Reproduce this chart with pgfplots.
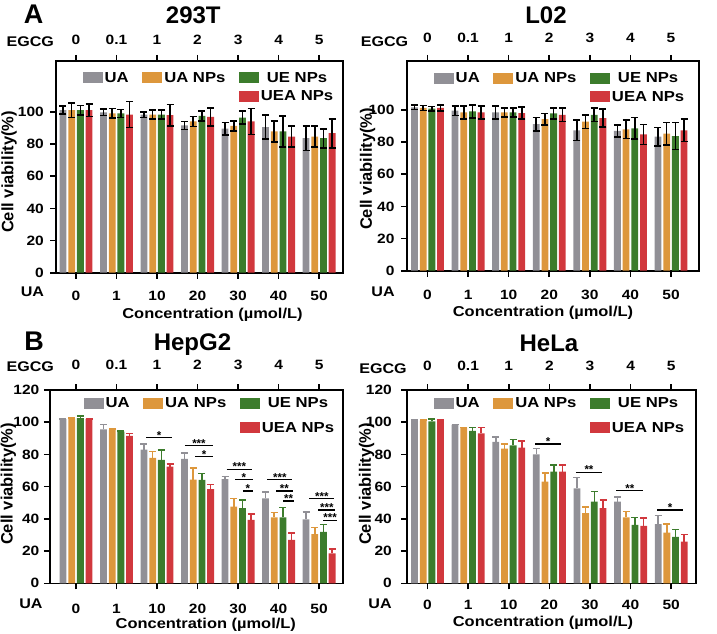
\documentclass[border=0pt]{standalone}
\usepackage{fontspec}
\setmainfont{Liberation Sans}
\newfontfamily\sfx{Liberation Sans}[FakeStretch=1.15]
\usepackage{pgfplots}
\pgfplotsset{compat=1.18}
\definecolor{cUA}{RGB}{145,144,150}
\definecolor{cUAN}{RGB}{221,151,60}
\definecolor{cUEN}{RGB}{60,124,44}
\definecolor{cUEAN}{RGB}{209,56,61}
\newcommand{\tickf}{\sfx\bfseries\fontsize{13.5}{13.5}\selectfont}
\newcommand{\lblf}{\sfx\bfseries\fontsize{14}{14}\selectfont}
\newcommand{\xlf}{\sfx\bfseries\fontsize{14.3}{14.3}\selectfont}
\newcommand{\ylf}{\bfseries\fontsize{16.5}{16.5}\selectfont}
\newcommand{\legf}{\sfx\bfseries\fontsize{14.5}{14.5}\selectfont}
\newcommand{\titf}{\bfseries\fontsize{24}{24}\selectfont}
\newcommand{\letf}{\bfseries\fontsize{27}{27}\selectfont}
\newcommand{\starf}{\bfseries\fontsize{11.5}{11.5}\selectfont}
\pgfplotsset{
  panel/.style={scale only axis, clip=false, ymin=0, xtick={0,...,6},
    axis line style={line width=1.6pt}, tick style={line width=1.6pt, black},
    major tick length=6pt, tick align=outside, minor tick num=0,
    tick label style={font=\tickf}, /pgf/number format/assume math mode=true},
  mainax/.style={panel, ybar, bar width=6.8pt, xtick pos=lower, ytick pos=left,
    xticklabels={0,1,10,20,30,40,50},
    xticklabel style={anchor=base},
    yticklabel style={anchor=east, inner sep=0pt},
    legend columns=3,
    legend image code/.code={\fill[##1] (0pt,-5.5pt) rectangle (20pt,5.5pt);},
    legend style={draw=none, fill=none, anchor=north west, inner sep=0pt, font=\legf,
      nodes={inner sep=1.5pt},
      /tikz/every odd column/.append style={column sep=0.5pt},
      /tikz/every even column/.append style={column sep=12pt}}},
  topax/.style={panel, axis x line*=top, axis y line=none,
    xticklabels={0,0.1,1,2,3,4,5}, xticklabel style={anchor=base}},
  ebA/.style={error bars/y dir=both, error bars/y explicit,
    error bars/error bar style={draw=black, line width=1.6pt},
    error bars/error mark options={rotate=90, draw=black, mark size=3.5pt, line width=1.6pt}},
  ebB/.style={error bars/y dir=plus, error bars/y explicit,
    error bars/error bar style={draw=#1, line width=1.6pt},
    error bars/error mark options={rotate=90, draw=#1, mark size=3.5pt, line width=1.6pt}},
  s1/.style={bar shift=-13.05pt}, s2/.style={bar shift=-4.35pt},
  s3/.style={bar shift=4.35pt}, s4/.style={bar shift=13.05pt},
}
\newcommand{\sig}[4]{\draw[line width=1.2pt] (axis cs:#1,#3) -- (axis cs:#2,#3) node[midway, anchor=base, yshift=-1.5pt, inner sep=0pt, font=\starf]{#4};}
\newcommand{\emptyentries}{\addlegendimage{empty legend}\addlegendentry{}\addlegendimage{empty legend}\addlegendentry{}}
\begin{document}
\begin{tikzpicture}
\useasboundingbox (0,0) rectangle (717pt,633pt);
% ---------------- 293T ----------------
\begin{axis}[mainax, at={(56pt,360.3pt)}, anchor=south west, width=287pt, height=211.7pt,
  xmin=-0.494, xmax=6.59, ymax=131.6, ytick={0,20,...,100},
  xticklabel style={yshift=-22pt}, yticklabel style={xshift=-6pt},
  legend style={at={(0.0923,0.955)}, row sep=4pt}]
\addplot[fill=cUA, draw=none, s1, ebA] coordinates {(0,101) +- (0,2.5) (1,99.6) +- (0,2) (2,98.3) +- (0,1.7) (3,91.6) +- (0,2.5) (4,89.5) +- (0,3.8) (5,90.5) +- (0,7.4) (6,83.6) +- (0,7.6)};
\addlegendentry{UA}
\addplot[fill=cUAN, draw=none, s2, ebA] coordinates {(0,101) +- (0,4.5) (1,99) +- (0,3) (2,98.3) +- (0,2.7) (3,94) +- (0,3.2) (4,91.2) +- (0,3) (5,87.8) +- (0,6.5) (6,84.6) +- (0,6.5)};
\addlegendentry{UA NPs}
\addplot[fill=cUEN, draw=none, s3, ebA] coordinates {(0,101) +- (0,3) (1,99) +- (0,2.5) (2,98.3) +- (0,2.7) (3,97.5) +- (0,3.2) (4,96.4) +- (0,4) (5,87.8) +- (0,9.7) (6,83.6) +- (0,5.9)};
\addlegendentry{UE NPs}
\emptyentries
\addplot[fill=cUEAN, draw=none, s4, ebA] coordinates {(0,101) +- (0,4) (1,98.3) +- (0,8) (2,97.9) +- (0,6.7) (3,96.8) +- (0,5.7) (4,94) +- (0,8) (5,84.6) +- (0,6.5) (6,86.7) +- (0,9)};
\addlegendentry{UEA NPs}
\end{axis}
\begin{axis}[topax, at={(56pt,360.3pt)}, anchor=south west, width=287pt, height=211.7pt,
  xmin=-0.494, xmax=6.59, ymax=131.6, xticklabel style={yshift=10.3pt}]
\end{axis}
% ---------------- L02 ----------------
\begin{axis}[mainax, at={(407pt,362.3pt)}, anchor=south west, width=292pt, height=209.7pt,
  xmin=-0.505, xmax=6.69, ymax=130.5, ytick={0,20,...,100},
  xticklabel style={yshift=-22.6pt}, yticklabel style={xshift=-6.3pt},
  legend style={at={(0.0908,0.953)}, row sep=4pt}]
\addplot[fill=cUA, draw=none, s1, ebA] coordinates {(0,101.7) +- (0,1.5) (1,99.6) +- (0,3) (2,98.5) +- (0,4) (3,91.2) +- (0,4.2) (4,87.4) +- (0,6.3) (5,87) +- (0,3.8) (6,83.4) +- (0,5.7)};
\addlegendentry{UA}
\addplot[fill=cUAN, draw=none, s2, ebA] coordinates {(0,101.3) +- (0,1.5) (1,98.5) +- (0,4) (2,98.5) +- (0,2.7) (3,94.3) +- (0,3.6) (4,92.8) +- (0,4.2) (5,88) +- (0,5.7) (6,85.3) +- (0,7)};
\addlegendentry{UA NPs}
\addplot[fill=cUEN, draw=none, s3, ebA] coordinates {(0,100.8) +- (0,1.3) (1,99.2) +- (0,4) (2,98.5) +- (0,2.7) (3,97.9) +- (0,3.4) (4,97) +- (0,4.2) (5,88.6) +- (0,6.7) (6,83.8) +- (0,8.4)};
\addlegendentry{UE NPs}
\emptyentries
\addplot[fill=cUEAN, draw=none, s4, ebA] coordinates {(0,101.3) +- (0,2) (1,98.5) +- (0,4) (2,98.1) +- (0,3.6) (3,97) +- (0,4.2) (4,95) +- (0,5.7) (5,84.8) +- (0,6.3) (6,87.4) +- (0,7)};
\addlegendentry{UEA NPs}
\end{axis}
\begin{axis}[topax, at={(407pt,362.3pt)}, anchor=south west, width=292pt, height=209.7pt,
  xmin=-0.505, xmax=6.69, ymax=130.5, xticklabel style={yshift=12.7pt}]
\end{axis}
% ---------------- HepG2 ----------------
\begin{axis}[mainax, at={(50pt,49.7pt)}, anchor=south west, width=293pt, height=193.3pt,
  xmin=-0.642, xmax=6.59, ymax=120, ytick={0,20,...,120},
  xticklabel style={yshift=-24pt}, yticklabel style={xshift=-4.5pt},
  legend style={at={(0.114,0.969)}, row sep=10pt}]
\addplot[fill=cUA, draw=none, s1, ebB=cUA] coordinates {(0,101.9) +- (0,0.2) (1,95.6) +- (0,3) (2,83) +- (0,3.3) (3,77.3) +- (0,3.7) (4,64.6) +- (0,1.6) (5,52.8) +- (0,4) (6,39.7) +- (0,4.7)};
\addlegendentry{UA}
\addplot[fill=cUAN, draw=none, s2, ebB=cUAN] coordinates {(0,102.3) +- (0,0.2) (1,95.2) +- (0,0.5) (2,77.9) +- (0,4) (3,64.4) +- (0,7) (4,47.6) +- (0,5) (5,41) +- (0,3) (6,30.6) +- (0,4)};
\addlegendentry{UA NPs}
\addplot[fill=cUEN, draw=none, s3, ebB=cUEN] coordinates {(0,102.5) +- (0,1.2) (1,94.1) +- (0,0.3) (2,76.6) +- (0,6) (3,64.2) +- (0,4) (4,46.6) +- (0,5) (5,41) +- (0,6) (6,32) +- (0,4.6)};
\addlegendentry{UE NPs}
\emptyentries
\addplot[fill=cUEAN, draw=none, s4, ebB=cUEAN] coordinates {(0,101.9) +- (0,0.2) (1,91.6) +- (0,1.5) (2,72.4) +- (0,1.7) (3,58.4) +- (0,3) (4,39.3) +- (0,3.7) (5,26.9) +- (0,4.5) (6,18.6) +- (0,2.7)};
\addlegendentry{UEA NPs}
\sig{1.73}{2.37}{90.4}{*}
\sig{2.69}{3.38}{85.3}{***}
\sig{2.94}{3.38}{78.6}{*}
\sig{3.72}{4.34}{70.8}{***}
\sig{3.93}{4.36}{64.2}{*}
\sig{4.12}{4.36}{57.3}{*}
\sig{4.72}{5.34}{64.2}{***}
\sig{4.94}{5.35}{57.3}{**}
\sig{5.12}{5.37}{51.1}{**}
\sig{5.76}{6.38}{52.6}{***}
\sig{5.98}{6.40}{45.5}{***}
\sig{6.10}{6.44}{39.1}{***}
\end{axis}
\begin{axis}[topax, at={(50pt,49.7pt)}, anchor=south west, width=293pt, height=193.3pt,
  xmin=-0.642, xmax=6.59, ymax=120, xticklabel style={yshift=15pt}]
\end{axis}
% ---------------- HeLa ----------------
\begin{axis}[mainax, at={(407pt,49.7pt)}, anchor=south west, width=289pt, height=193.3pt,
  xmin=-0.505, xmax=6.61, ymax=120, ytick={0,20,...,120},
  xticklabel style={yshift=-20pt}, yticklabel style={xshift=-9pt},
  legend style={at={(0.0917,0.969)}, row sep=10pt}]
\addplot[fill=cUA, draw=none, s1, ebB=cUA] coordinates {(0,101) +- (0,0.2) (1,98.3) +- (0,0.2) (2,87.8) +- (0,3) (3,80) +- (0,3.6) (4,59) +- (0,6.6) (5,50.7) +- (0,3) (6,36.8) +- (0,5.2)};
\addlegendentry{UA}
\addplot[fill=cUAN, draw=none, s2, ebB=cUAN] coordinates {(0,101) +- (0,0.2) (1,96.6) +- (0,0.2) (2,83.6) +- (0,3) (3,63.1) +- (0,5.2) (4,43.5) +- (0,4) (5,41) +- (0,3.5) (6,31.4) +- (0,5.4)};
\addlegendentry{UA NPs}
\addplot[fill=cUEN, draw=none, s3, ebB=cUEN] coordinates {(0,100.6) +- (0,1.5) (1,94.7) +- (0,2) (2,85.7) +- (0,3.6) (3,69.3) +- (0,4.2) (4,50.7) +- (0,6.2) (5,36.2) +- (0,4.6) (6,28.9) +- (0,4.6)};
\addlegendentry{UE NPs}
\emptyentries
\addplot[fill=cUEAN, draw=none, s4, ebB=cUEAN] coordinates {(0,101) +- (0,0.2) (1,93) +- (0,3.6) (2,84.2) +- (0,4.2) (3,69.3) +- (0,4.2) (4,46.6) +- (0,5.2) (5,35.6) +- (0,4.8) (6,25.8) +- (0,4.6)};
\addlegendentry{UEA NPs}
\sig{2.65}{3.29}{86.5}{*}
\sig{3.65}{4.30}{69}{**}
\sig{4.65}{5.31}{57.4}{**}
\sig{5.65}{6.29}{45.5}{*}
\end{axis}
\begin{axis}[topax, at={(407pt,49.7pt)}, anchor=south west, width=289pt, height=193.3pt,
  xmin=-0.505, xmax=6.61, ymax=120, xticklabel style={yshift=13.3pt}]
\end{axis}
% ---------------- texts ----------------
\begin{scope}[every node/.style={inner sep=0pt}]
\node[font=\letf, anchor=base] at (33.7pt,609.7pt) {A};
\node[font=\titf, anchor=base] at (193.3pt,609.7pt) {293T};
\node[font=\titf, anchor=base] at (546pt,609.7pt) {L02};
\node[font=\letf, anchor=base] at (34.2pt,283pt) {B};
\node[font=\titf, anchor=base] at (192.5pt,283pt) {HepG2};
\node[font=\titf, anchor=base] at (549pt,281.3pt) {HeLa};
\node[font=\lblf, anchor=base] at (30.3pt,586.3pt) {EGCG};
\node[font=\lblf, anchor=base] at (384.5pt,586.3pt) {EGCG};
\node[font=\lblf, anchor=base] at (30.3pt,261.3pt) {EGCG};
\node[font=\lblf, anchor=base] at (383pt,259.7pt) {EGCG};
\node[font=\lblf, anchor=base] at (32.5pt,336.3pt) {UA};
\node[font=\lblf, anchor=base] at (383pt,336.3pt) {UA};
\node[font=\lblf, anchor=base] at (31pt,25pt) {UA};
\node[font=\lblf, anchor=base] at (380pt,24.7pt) {UA};
\node[font=\xlf, anchor=base] at (212.5pt,314.7pt) {Concentration (µmol/L)};
\node[font=\xlf, anchor=base] at (543pt,316.3pt) {Concentration (µmol/L)};
\node[font=\xlf, anchor=base] at (205.8pt,5pt) {Concentration (µmol/L)};
\node[font=\xlf, anchor=base] at (543pt,7pt) {Concentration (µmol/L)};
\node[font=\ylf, rotate=90] at (9pt,461pt) {Cell viability(\%)};
\node[font=\ylf, rotate=90] at (367.5pt,464pt) {Cell viability(\%)};
\node[font=\ylf, rotate=90] at (8.3pt,149pt) {Cell viability(\%)};
\node[font=\ylf, rotate=90] at (366.5pt,149pt) {Cell viability(\%)};
\end{scope}
\end{tikzpicture}
\end{document}
